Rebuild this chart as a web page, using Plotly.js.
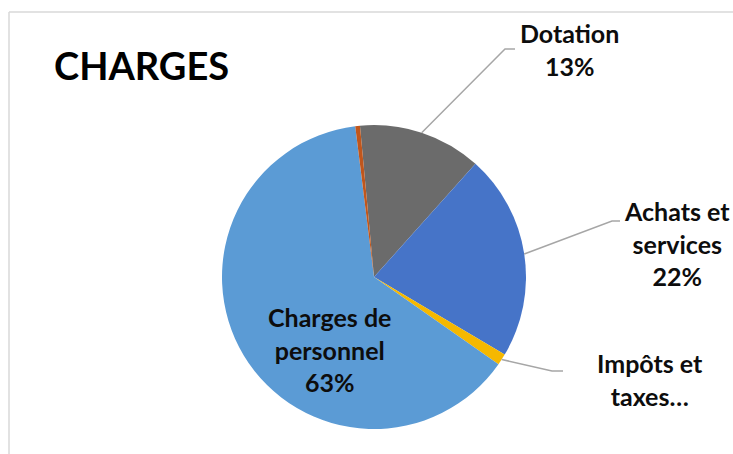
<!DOCTYPE html>
<html>
<head>
<meta charset="utf-8">
<script src="https://cdn.plot.ly/plotly-3.0.1.min.js"></script>
<style>html,body{margin:0;padding:0;background:#fff;}#chart{width:733px;height:454px;}</style>
</head>
<body>
<div id="chart"></div>
<script>
// ---- data ----
var categories = ["Dotation", "Achats et services", "Impôts et taxes", "Charges de personnel", "Autres charges"];
var values = [13.1, 21.9, 1.2, 63.3, 0.5];
var labelTexts = ["Dotation<br>13%", "Achats et<br>services<br>22%", "Impôts et<br>taxes…", "Charges de<br>personnel<br>63%", ""];
var colors = ["#6b6b6b", "#4674c8", "#f5b800", "#5b9bd5", "#c0561c"];

// ---- layout constants ----
var W = 733, H = 454;
var cx = 374, cy = 277, R = 152;      // pie centre / radius in pixels
var startAngle = -5.3;                // degrees clockwise from 12 o'clock
var FONT = "Lato, Liberation Sans, Arial, sans-serif";

function px(x) { return x / W; }
function py(y) { return 1 - y / H; }

// label positions (pixel centres) and leader elbows
var labelPos = [
  {x: 569, y: 49, elbow: [505, 49], end: [515, 49]},
  {x: 677, y: 243, elbow: [612, 221], end: [620, 221]},
  {x: 650, y: 379, elbow: [552, 371], end: [563, 371]},
  {x: 329, y: 349, elbow: null, end: null},
  null
];

var total = values.reduce(function (a, b) { return a + b; }, 0);
var shapes = [
  {type: "line", xref: "paper", yref: "paper", x0: px(9), x1: px(9), y0: py(12), y1: py(470), line: {color: "#d9d9d9", width: 1.5}},
  {type: "line", xref: "paper", yref: "paper", x0: px(9), x1: px(750), y0: py(12), y1: py(12), line: {color: "#d9d9d9", width: 1.5}}
];
var annotations = [];
var cum = 0;
for (var i = 0; i < values.length; i++) {
  var mid = startAngle + (cum + values[i] / 2) / total * 360;
  cum += values[i];
  var lp = labelPos[i];
  if (!lp) continue;
  annotations.push({
    xref: "paper", yref: "paper", x: px(lp.x), y: py(lp.y),
    xanchor: "center", yanchor: "middle", showarrow: false, align: "center",
    text: labelTexts[i],
    font: {family: FONT, size: 25, color: "#0d0d0d", weight: "bold"}
  });
  if (lp.elbow) {
    var a = mid * Math.PI / 180;
    var ex = cx + R * Math.sin(a), ey = cy - R * Math.cos(a);
    shapes.push({
      type: "path", xref: "paper", yref: "paper",
      path: "M " + px(ex) + " " + py(ey) + " L " + px(lp.elbow[0]) + " " + py(lp.elbow[1]) + " L " + px(lp.end[0]) + " " + py(lp.end[1]),
      line: {color: "#a6a6a6", width: 1.5}
    });
  }
}

var trace = {
  type: "pie",
  labels: categories,
  values: values,
  sort: false,
  direction: "clockwise",
  rotation: startAngle,
  textinfo: "none",
  hoverinfo: "label+percent",
  marker: {colors: colors, line: {width: 0}},
  domain: {x: [px(cx - R), px(cx + R)], y: [py(cy + R), py(cy - R)]},
  showlegend: false
};

var layout = {
  width: W, height: H,
  margin: {l: 0, r: 0, t: 0, b: 0},
  paper_bgcolor: "#ffffff",
  showlegend: false,
  title: {
    text: "CHARGES", x: px(54), xanchor: "left", xref: "paper",
    y: py(67), yanchor: "middle", yref: "paper",
    font: {family: FONT, size: 38, color: "#000000", weight: "bold"}
  },
  shapes: shapes,
  annotations: annotations
};

Plotly.newPlot("chart", [trace], layout, {displayModeBar: false, staticPlot: true});
</script>
</body>
</html>
